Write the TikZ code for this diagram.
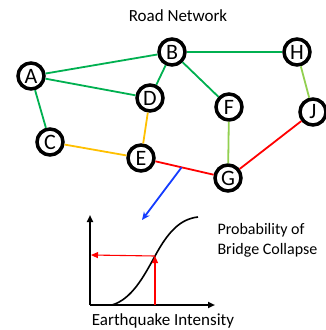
\documentclass[tikz,border=0pt]{standalone}
\usepackage{fontspec}
\setmainfont{Carlito}
\usetikzlibrary{arrows.meta}

\definecolor{roadgreen}{RGB}{0,176,80}
\definecolor{roadlime}{RGB}{146,208,80}
\definecolor{roadorange}{RGB}{255,192,0}
\definecolor{roadred}{RGB}{255,0,0}
\definecolor{roadblue}{RGB}{20,60,255}

\tikzset{
    town/.style={circle, draw, line width=3.5pt, fill=white, minimum size=26pt,
        inner sep=0pt, font=\fontsize{22}{22}\selectfont},
    road/.style={line width=1.8pt},
    axis/.style={line width=1.8pt, -{Triangle[length=7pt,width=6pt]}},
    readoff/.style={roadred, line width=1.1pt, -{Triangle[length=7pt,width=6pt]}}
}

\begin{document}
\begin{tikzpicture}[x=1pt, y=-1pt]
    \useasboundingbox (0,0) rectangle (326,330);

    % Title
    \node[font=\fontsize{17}{17}\selectfont] (title) at (178, 16) {Road Network};

    % Towns
    \node[town] (A) at (31, 76) {A};
    \node[town] (B) at (172, 52) {B};
    \node[town] (H) at (297, 52) {H};
    \node[town] (D) at (150, 98) {D};
    \node[town] (F) at (229, 107) {F};
    \node[town] (J) at (313, 112) {J};
    \node[town] (C) at (50, 142) {C};
    \node[town] (E) at (141, 158) {E};
    \node[town] (G) at (228, 178) {G};

    % Roads
    \draw[road, roadgreen] (A) -- (B);
    \draw[road, roadgreen] (A) -- (D);
    \draw[road, roadgreen] (A) -- (C);
    \draw[road, roadgreen] (B) -- (D);
    \draw[road, roadgreen] (B) -- (F);
    \draw[road, roadgreen] (B) -- (H);
    \draw[road, roadlime] (H) -- (J);
    \draw[road, roadlime] (F) -- (G);
    \draw[road, roadorange] (C) -- (E);
    \draw[road, roadorange] (D) -- (E);
    \draw[road, roadred] (E) -- coordinate[pos=0.45] (bridge) (G);
    \draw[road, roadred] (G) -- (J);

    % Bridge to fragility curve
    \coordinate (curvetop) at (142, 220);
    \draw[line width=1.8pt, roadblue, -{Stealth[length=8pt,width=7pt]}] (bridge) -- (curvetop);

    % Fragility curve axes
    \coordinate (origin) at (90, 305);
    \coordinate (ytop) at (90, 215);
    \coordinate (xend) at (215, 305);
    \draw[axis] (origin) -- (ytop);
    \draw[axis] (origin) -- (xend);

    % Curve
    \draw[line width=1.6pt] (112, 305) .. controls (132, 299) and (144, 276) .. (155, 256)
        .. controls (168, 232) and (180, 219) .. (198, 217);

    % Read-off arrows
    \coordinate (ifoot) at (155, 305);
    \coordinate (ihit) at (155, 256);
    \coordinate (pleft) at (91, 255);
    \draw[readoff] (ifoot) -- (ihit);
    \draw[readoff] (ihit) -- (pleft);

    % Labels
    \node[anchor=west, align=left, font=\fontsize{16}{20}\selectfont] (plabel) at (214, 240)
        {Probability of\\Bridge Collapse};
    \node[font=\fontsize{17}{17}\selectfont] (xlabel) at (163, 321) {Earthquake Intensity};
\end{tikzpicture}
\end{document}
